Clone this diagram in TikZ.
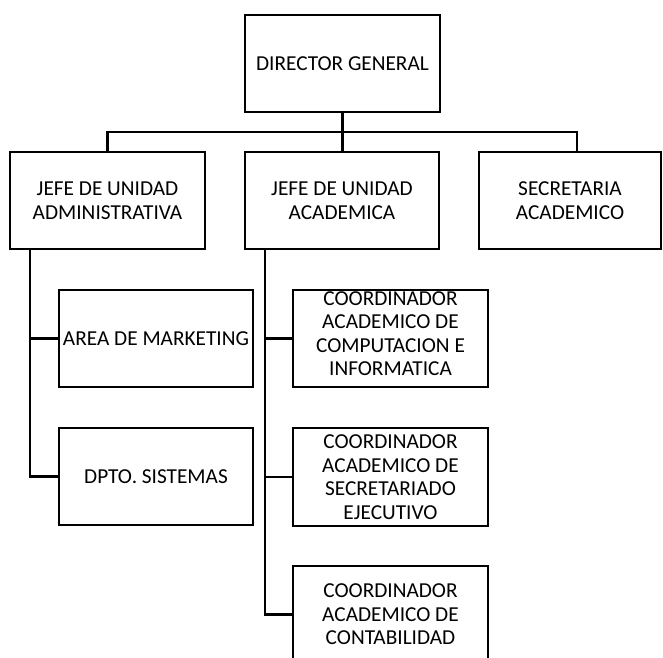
\documentclass[tikz,border=0pt]{standalone}
\usepackage{fontspec}
\setmainfont{Carlito}
\begin{document}
\begin{tikzpicture}[x=1pt,y=-1pt,
  boxtext/.style={align=center, inner sep=0pt,
    font=\fontsize{21.3}{23.5}\selectfont},
  orgbox/.style={boxtext, draw, line width=2.6pt,
    minimum width=195pt, minimum height=97pt},
  link/.style={line width=2.6pt}]
  \clip (0,0) rectangle (663,657);
  \useasboundingbox (0,0) rectangle (663,657);

  % top level
  \node[orgbox] (dir) at (342.5,63.5) {DIRECTOR GENERAL};

  % second level
  \node[orgbox] (adm)  at (107.5,200.5) {JEFE DE UNIDAD\\ADMINISTRATIVA};
  \node[orgbox, minimum width=194pt] (acad) at (342,200.5) {JEFE DE UNIDAD\\ACADEMICA};
  \node[orgbox, minimum width=182pt] (sec)  at (570,200.5) {SECRETARIA\\ACADEMICO};

  % administrative branch
  \node[orgbox, minimum width=194pt] (mkt)  at (156,338.5) {AREA DE MARKETING};
  \node[orgbox, minimum width=194pt] (dpto) at (156,476.5) {DPTO. SISTEMAS};

  % academic branch (first box has its text set a little high)
  \node[orgbox] (c1) at (390.5,338.5) {};
  \node[boxtext] (c1text) at ([yshift=5pt]c1.center)
    {COORDINADOR\\ACADEMICO DE\\COMPUTACION E\\INFORMATICA};
  \node[orgbox, minimum height=98pt] (c2) at (390.5,477) {COORDINADOR\\ACADEMICO DE\\SECRETARIADO\\EJECUTIVO};
  \node[orgbox] (c3) at (390.5,614.5) {COORDINADOR\\ACADEMICO DE\\CONTABILIDAD};

  % bus below the director
  \coordinate (bus) at (342.5,132);
  \coordinate (secdrop) at (577,132);
  \draw[link] (dir.south) -- (dir.south |- acad.north);
  \draw[link] (adm.north) -- (adm.north |- bus) -- (secdrop) -- (secdrop |- sec.north);

  % vertical trunks
  \coordinate (admtrunk) at (30,249);
  \coordinate (acadtrunk) at (265,249);
  \draw[link] (admtrunk) |- (mkt.west);
  \draw[link] (admtrunk) |- (dpto.west);
  \draw[link] (acadtrunk) |- (c1.west);
  \draw[link] (acadtrunk) |- (c2.west);
  \draw[link] (acadtrunk) |- (c3.west);
\end{tikzpicture}
\end{document}
